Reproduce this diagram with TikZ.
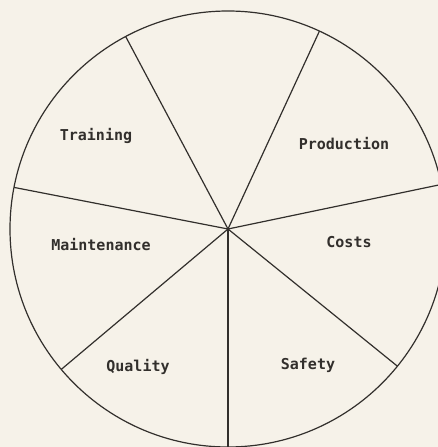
\documentclass[tikz,border=0pt]{standalone}
\usepackage{fontspec}
\setmonofont{DejaVu Sans Mono}
\definecolor{paper}{RGB}{246,242,233}
\definecolor{ink}{RGB}{50,47,44}
\begin{document}
\begin{tikzpicture}[x=1pt, y=1pt, line width=1.2pt,
    slice/.style={font=\ttfamily\bfseries\fontsize{15}{17}\selectfont, text=ink, inner sep=0pt}]
        % paper and frame of the page
        \fill[paper] (-228,-218) rectangle (210,229);
        \useasboundingbox (-228,-218) rectangle (210,229);

        \coordinate (hub) at (0,0);
        \draw[ink] (hub) circle (218);

        % spokes from the hub to the rim
        \foreach \ang [count=\i] in {65.2, 11.8, -39, -90, -139.9, 169, 118}
            \coordinate (rim\i) at (\ang:218);
        \foreach \i in {1,...,7}
            \draw[ink] (hub) -- (rim\i);

        \node[slice] (train) at (-132,93) {Training};
        \node[slice] (prod) at (116,85) {Production};
        \node[slice] (maint) at (-127,-16) {Maintenance};
        \node[slice] (costs) at (121,-13) {Costs};
        \node[slice] (qual) at (-90,-138) {Quality};
        \node[slice] (safe) at (80,-136) {Safety};
   \end{tikzpicture}
\end{document}
